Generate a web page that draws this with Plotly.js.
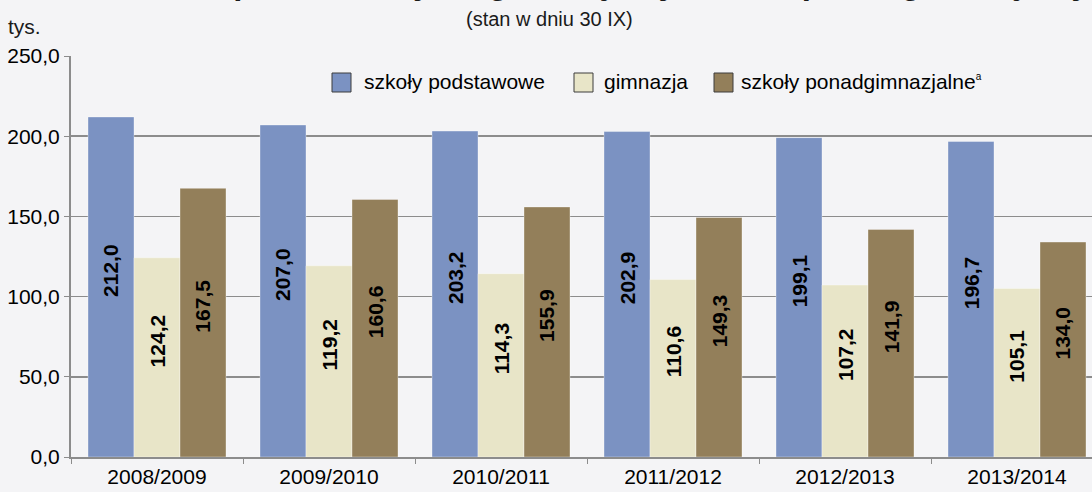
<!DOCTYPE html>
<html>
<head>
<meta charset="utf-8">
<script src="https://cdn.plot.ly/plotly-3.0.1.min.js"></script>
<style>
  html, body { margin: 0; padding: 0; background: #f4f4f6; }
  #chart { width: 1092px; height: 492px; }
</style>
</head>
<body>
<div id="chart"></div>
<script>
// ---- data ----
const years = ["2008/2009", "2009/2010", "2010/2011", "2011/2012", "2012/2013", "2013/2014"];
const seriesNames = ["szkoły podstawowe", "gimnazja", "szkoły ponadgimnazjalne"];
const podstawowe = [212.0, 207.0, 203.2, 202.9, 199.1, 196.7];
const gimnazja = [124.2, 119.2, 114.3, 110.6, 107.2, 105.1];
const ponadgimnazjalne = [167.5, 160.6, 155.9, 149.3, 141.9, 134.0];
const yTicks = [0, 50, 100, 150, 200, 250];
const titleText = "Uczniowie szkół podstawowych, gimnazjalnych oraz ponadgimnazjalnych";
const subtitleText = "(stan w dniu 30 IX)";
const unitText = "tys.";

// ---- style ----
const colors = ["#7b92c2", "#e8e5c8", "#937f5a"];
const FONT = "'Liberation Sans', Arial, sans-serif";
const W = 1092, H = 492;
const mL = 71, mR = 0, mT = 56, mB = 35;
const plotW = W - mL - mR, plotH = H - mT - mB;
const px2x = p => (p - mL) / plotW;
const px2y = p => (H - mB - p) / plotH;
const catW = 172; // px per category
const barW = 46;

const allSeries = [podstawowe, gimnazja, ponadgimnazjalne];
const fmt = v => v.toFixed(1).replace('.', ',');

const traces = allSeries.map((vals, i) => ({
  type: 'bar',
  name: seriesNames[i],
  x: years,
  y: vals,
  marker: { color: colors[i], line: { color: 'rgba(255,255,255,0.35)', width: 1 } },
  showlegend: false,
  hoverinfo: 'x+y+name'
}));

const annotations = [];
allSeries.forEach((vals, s) => {
  vals.forEach((v, k) => {
    annotations.push({
      xref: 'x', yref: 'y', x: k, y: v / 2,
      xshift: (s - 1) * barW, yshift: 16,
      text: '<b>' + fmt(v) + '</b>', textangle: -90, showarrow: false,
      font: { family: FONT, size: 21, color: '#000' }
    });
  });
});

// title (cut off at the top, as in the reference)
annotations.push({
  xref: 'paper', yref: 'paper', x: px2x(549), y: 1, xanchor: 'center', yanchor: 'bottom',
  yshift: 53, text: '<b>' + titleText + '</b>', showarrow: false,
  font: { family: FONT, size: 33, color: '#1a1a1a' }
});
annotations.push({
  xref: 'paper', yref: 'paper', x: px2x(549), y: px2y(19), xanchor: 'center', yanchor: 'middle',
  text: subtitleText, showarrow: false,
  font: { family: FONT, size: 20, color: '#1a1a1a' }
});
annotations.push({
  xref: 'paper', yref: 'paper', x: px2x(6), y: px2y(26), xanchor: 'left', yanchor: 'middle',
  text: unitText, showarrow: false,
  font: { family: FONT, size: 21, color: '#1a1a1a' }
});

// legend (drawn manually for the large square keys)
const legSq = [332, 574, 714];
const legTxt = [362, 602, 739];
const shapes = [];
seriesNames.forEach((n, i) => {
  shapes.push({
    type: 'rect', xref: 'paper', yref: 'paper',
    x0: px2x(legSq[i]), x1: px2x(legSq[i] + 19), y0: px2y(92), y1: px2y(73),
    fillcolor: colors[i], line: { color: '#3c3c3c', width: 1 }
  });
  annotations.push({
    xref: 'paper', yref: 'paper', x: px2x(legTxt[i]), y: px2y(82), xanchor: 'left', yanchor: 'middle',
    text: n + (i === 2 ? '<sup><span style="font-size:10px">a</span></sup>' : ''), showarrow: false,
    font: { family: FONT, size: 21, color: '#000' }
  });
});

const layout = {
  width: W, height: H,
  margin: { l: mL, r: mR, t: mT, b: mB, pad: 0 },
  paper_bgcolor: '#f4f4f6', plot_bgcolor: '#f4f4f6',
  separators: ', ',
  barmode: 'group', bargap: 1 - (3 * barW) / catW, bargroupgap: 0,
  font: { family: FONT, size: 21, color: '#000' },
  xaxis: {
    type: 'category', range: [-0.5, -0.5 + plotW / catW],
    tickson: 'boundaries', ticks: 'outside', ticklen: 5, tickwidth: 1, tickcolor: '#8c8c8c',
    showline: true, linecolor: '#8c8c8c', linewidth: 2,
    showgrid: false, zeroline: false,
    tickfont: { family: FONT, size: 21, color: '#000' }
  },
  yaxis: {
    range: [0, 250], tickvals: yTicks, tickformat: '.1f',
    ticks: 'outside', ticklen: 5, tickwidth: 1, tickcolor: '#8c8c8c',
    showline: true, linecolor: '#8c8c8c', linewidth: 2,
    showgrid: true, gridcolor: '#8c8c8c', gridwidth: 1.5, zeroline: false,
    tickfont: { family: FONT, size: 21, color: '#000' }
  },
  shapes: shapes,
  annotations: annotations
};

Plotly.newPlot('chart', traces, layout, { displayModeBar: false, staticPlot: true });
</script>
</body>
</html>
